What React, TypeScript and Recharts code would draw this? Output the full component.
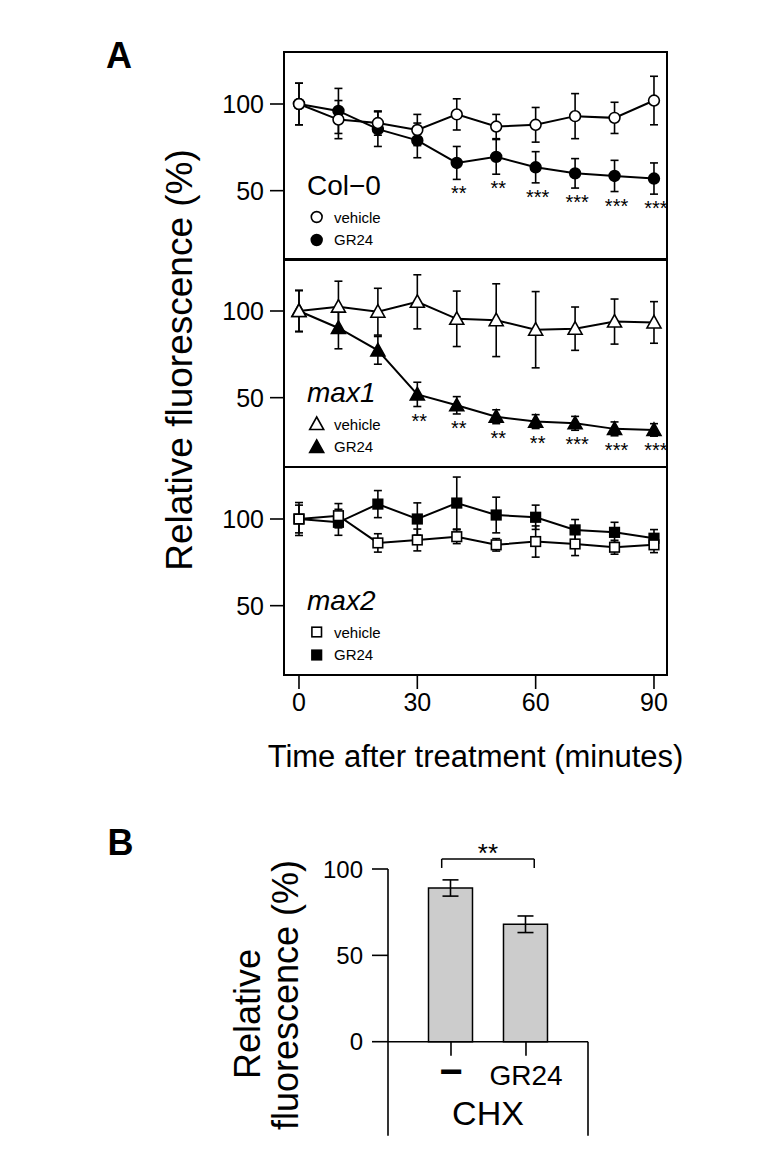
import React from 'react';
import {
  LineChart,
  Line,
  XAxis,
  YAxis,
  ErrorBar,
  ReferenceArea,
  ReferenceLine,
  ReferenceDot,
  Legend,
  LabelList,
  BarChart,
  Bar,
} from 'recharts';

const FONT = '"Liberation Sans", Arial, Helvetica, sans-serif';

// panel A: minutes after treatment
const minutes = [0, 10, 20, 30, 40, 50, 60, 70, 80, 90];
const timeTicks = [0, 30, 60, 90];
const percentTicks = [50, 100];
const seriesNames = ['vehicle', 'GR24'];

const col0Vehicle = [100, 91, 89, 85, 94, 87, 88, 93, 92, 102];
const col0VehicleSd = [12, 11, 7, 9, 9, 7, 10, 13, 9, 14];
const col0Gr24 = [100, 96, 85.5, 79, 66, 69.5, 63.5, 60, 58.5, 57];
const col0Gr24Sd = [12, 13, 10, 10, 9.5, 10, 9, 8.5, 9, 9];
const col0Stars = ['', '', '', '', '**', '**', '***', '***', '***', '***'];

const max1Vehicle = [100, 102.5, 99.6, 105.3, 95.5, 94.7, 89.2, 89.8, 93.9, 93.4];
const max1VehicleSd = [11.7, 14.7, 13.5, 15.6, 16, 21, 22, 12.5, 13, 12];
const max1Gr24 = [100, 90.2, 77.3, 51.9, 45.6, 39, 36.2, 35.2, 32, 31.4];
const max1Gr24Sd = [12, 12, 8, 7, 5, 4, 4, 4, 4, 3.6];
const max1Stars = ['', '', '', '**', '**', '**', '**', '***', '***', '***'];

const max2Vehicle = [100, 101.9, 86.2, 87.9, 89.8, 85.1, 87, 85.6, 83.7, 85.1];
const max2VehicleSd = [9.5, 7, 5.3, 6.3, 4, 3.6, 9, 6.7, 4, 4.5];
const max2Gr24 = [100, 98.1, 108.6, 100, 109.2, 102.3, 101, 93.7, 92.3, 88.9];
const max2Gr24Sd = [8, 7.5, 7.8, 9.3, 15, 10.3, 7, 6, 5.8, 5];
const max2Stars = ['', '', '', '', '', '', '', '', '', ''];

// panel B: CHX
const chxLabels = ['\u2212', 'GR24'];
const chxMeans = [89, 68];
const chxSd = [4.7, 4.8];
const barTicks = [0, 50, 100];

type Shape = 'circle' | 'triangle' | 'square';

function buildRows(veh: number[], vehSd: number[], gr: number[], grSd: number[], stars: string[]) {
  return minutes.map((t, i) => ({
    t,
    veh: veh[i],
    vehSd: vehSd[i],
    gr: gr[i],
    grSd: grSd[i],
    lo: gr[i] - grSd[i],
    star: stars[i],
  }));
}

function Marker({ cx, cy, shape, filled }: { cx: number; cy: number; shape: Shape; filled: boolean }) {
  const fill = filled ? '#000' : '#fff';
  if (shape === 'circle') {
    return <circle cx={cx} cy={cy} r={5.4} fill={fill} stroke="#000" strokeWidth={1.6} />;
  }
  if (shape === 'triangle') {
    return (
      <polygon
        points={`${cx},${cy - 7} ${cx - 7},${cy + 5.5} ${cx + 7},${cy + 5.5}`}
        fill={fill}
        stroke="#000"
        strokeWidth={1.6}
      />
    );
  }
  return <rect x={cx - 4.8} y={cy - 4.8} width={9.6} height={9.6} fill={fill} stroke="#000" strokeWidth={1.6} />;
}

const makeDot = (shape: Shape, filled: boolean) => (p: any) => {
  if (p.cx == null || p.cy == null) return <g key={p.index} />;
  return <Marker key={p.index} cx={p.cx} cy={p.cy} shape={shape} filled={filled} />;
};

const renderStar = (p: any) =>
  p.value ? (
    <text x={p.x + 2} y={p.y + 21} textAnchor="middle" fontSize={20} fontFamily={FONT} fill="#000">
      {p.value}
    </text>
  ) : null;

function PanelKey({ name, italic, shape }: { name: string; italic: boolean; shape: Shape }) {
  return (
    <svg width={160} height={95} style={{ display: 'block' }}>
      <text x={7} y={33} fontSize={28} fontStyle={italic ? 'italic' : 'normal'} fontFamily={FONT} fill="#000">
        {name}
      </text>
      <Marker cx={16.7} cy={55} shape={shape} filled={false} />
      <text x={34} y={60.5} fontSize={15} fontFamily={FONT} fill="#000">
        {seriesNames[0]}
      </text>
      <Marker cx={16.7} cy={78} shape={shape} filled />
      <text x={34} y={83} fontSize={15} fontFamily={FONT} fill="#000">
        {seriesNames[1]}
      </text>
    </svg>
  );
}

const axisTick = { fontSize: 25, fill: '#000', fontFamily: FONT };
const blackLine = { stroke: '#000', strokeWidth: 1.6 };

const yTitleA = (p: any) => {
  const vb = p.viewBox;
  const x = vb.x - 32;
  const y = vb.y + vb.height / 2 - 3;
  return (
    <text x={x} y={y} transform={`rotate(-90, ${x}, ${y})`} textAnchor="middle" fontSize={37} fontFamily={FONT} fill="#000">
      Relative fluorescence (%)
    </text>
  );
};

interface PanelProps {
  name: string;
  italic: boolean;
  shape: Shape;
  rows: ReturnType<typeof buildRows>;
  top: number;
  showX?: boolean;
  showTitle?: boolean;
}

function Panel({ name, italic, shape, rows, top, showX = false, showTitle = false }: PanelProps) {
  const axisH = showX ? 92 : 0;
  return (
    <div style={{ position: 'absolute', left: 0, top: 0 }}>
      <LineChart
        width={784}
        height={800}
        data={rows}
        margin={{ top, left: 224, right: 117, bottom: 800 - top - 208 - axisH }}
      >
        <XAxis
          type="number"
          dataKey="t"
          domain={[-3.8, 93.3]}
          allowDataOverflow
          ticks={timeTicks}
          hide={!showX}
          height={axisH}
          axisLine={false}
          tickSize={14}
          tickMargin={4}
          tickLine={blackLine}
          tick={axisTick}
          label={
            showX
              ? { value: 'Time after treatment (minutes)', position: 'insideBottom', offset: 0, fontSize: 31, fill: '#000', fontFamily: FONT }
              : undefined
          }
        />
        <YAxis
          type="number"
          domain={[10, 130]}
          allowDataOverflow
          ticks={percentTicks}
          width={60}
          axisLine={false}
          tickSize={14}
          tickMargin={6}
          tickLine={blackLine}
          tick={axisTick}
          label={showTitle ? yTitleA : undefined}
        />
        <ReferenceArea x1={-3.8} x2={93.3} y1={10} y2={130} fill="none" stroke="#000" strokeWidth={2} ifOverflow="visible" />
        <Line
          dataKey="gr"
          name={seriesNames[1]}
          stroke="#000"
          strokeWidth={2}
          dot={makeDot(shape, true)}
          activeDot={false}
          isAnimationActive={false}
        >
          <ErrorBar dataKey="grSd" width={4} stroke="#000" strokeWidth={1.6} direction="y" />
        </Line>
        <Line
          dataKey="veh"
          name={seriesNames[0]}
          stroke="#000"
          strokeWidth={2}
          dot={makeDot(shape, false)}
          activeDot={false}
          isAnimationActive={false}
        >
          <ErrorBar dataKey="vehSd" width={4} stroke="#000" strokeWidth={1.6} direction="y" />
        </Line>
        <Line dataKey="lo" stroke="none" dot={false} activeDot={false} legendType="none" isAnimationActive={false}>
          <LabelList dataKey="star" content={renderStar} />
        </Line>
        <Legend
          layout="horizontal"
          verticalAlign="middle"
          align="center"
          wrapperStyle={{ position: 'absolute', left: 300, top: top + 110, width: 160, height: 95 }}
          content={() => <PanelKey name={name} italic={italic} shape={shape} />}
        />
      </LineChart>
    </div>
  );
}

const barRows = chxLabels.map((label, i) => ({ pos: i + 1, label, mean: chxMeans[i], sd: chxSd[i] }));

const catTick = (p: any) => {
  const label = chxLabels[p.payload.value - 1];
  const isDash = label === '\u2212';
  return (
    <text
      x={p.x}
      y={p.y + 20}
      textAnchor="middle"
      fontSize={isDash ? 40 : 28}
      fontWeight={isDash ? 'bold' : 'normal'}
      fontFamily={FONT}
      fill="#000"
    >
      {label}
    </text>
  );
};

const yTitleB = (p: any) => {
  const vb = p.viewBox;
  const x1 = vb.x - 68;
  const y1 = vb.y + 145;
  const x2 = vb.x - 30;
  const y2 = vb.y + 126;
  return (
    <g>
      <text x={x1} y={y1} transform={`rotate(-90, ${x1}, ${y1})`} textAnchor="middle" fontSize={36} fontFamily={FONT} fill="#000">
        Relative
      </text>
      <text x={x2} y={y2} transform={`rotate(-90, ${x2}, ${y2})`} textAnchor="middle" fontSize={36} fontFamily={FONT} fill="#000">
        fluorescence (%)
      </text>
    </g>
  );
};

const bracketStars = (p: any) => {
  const vb = p.viewBox;
  return (
    <text x={vb.x} y={vb.y + 15} textAnchor="middle" fontSize={26} fontFamily={FONT} fill="#000">
      **
    </text>
  );
};

function PanelB() {
  return (
    <div style={{ position: 'absolute', left: 0, top: 780 }}>
      <BarChart width={784} height={379} data={barRows} margin={{ top: 89, left: 328, right: 196, bottom: 34 }}>
        <XAxis
          type="number"
          dataKey="pos"
          domain={[0.16, 2.827]}
          allowDataOverflow
          ticks={[1, 2]}
          height={83.3}
          tickSize={14}
          tickMargin={9.3}
          axisLine={blackLine}
          tickLine={blackLine}
          tick={catTick}
          label={{ value: 'CHX', position: 'insideBottom', offset: 0, fontSize: 34, fill: '#000', fontFamily: FONT }}
        />
        <YAxis
          type="number"
          domain={[0, 100]}
          ticks={barTicks}
          width={60}
          tickSize={16}
          tickMargin={9}
          axisLine={blackLine}
          tickLine={blackLine}
          tick={{ fontSize: 24, fill: '#000', fontFamily: FONT }}
          label={yTitleB}
        />
        <Bar dataKey="mean" fill="#cccccc" stroke="#000" strokeWidth={1.5} barSize={44} isAnimationActive={false}>
          <ErrorBar dataKey="sd" width={8} stroke="#000" strokeWidth={1.6} direction="y" />
        </Bar>
        <ReferenceLine segment={[{ x: 0.16, y: 0 }, { x: 0.16, y: -54.4 }]} stroke="#000" strokeWidth={1.6} ifOverflow="visible" />
        <ReferenceLine segment={[{ x: 2.827, y: 0 }, { x: 2.827, y: -54.4 }]} stroke="#000" strokeWidth={1.6} ifOverflow="visible" />
        <ReferenceLine segment={[{ x: 0.876, y: 105.8 }, { x: 2.11, y: 105.8 }]} stroke="#000" strokeWidth={1.5} ifOverflow="visible" />
        <ReferenceLine segment={[{ x: 0.876, y: 105.8 }, { x: 0.876, y: 100.6 }]} stroke="#000" strokeWidth={1.5} ifOverflow="visible" />
        <ReferenceLine segment={[{ x: 2.11, y: 105.8 }, { x: 2.11, y: 100.6 }]} stroke="#000" strokeWidth={1.5} ifOverflow="visible" />
        <ReferenceDot x={1.493} y={112.9} r={0} fill="none" stroke="none" ifOverflow="visible" label={bracketStars} />
      </BarChart>
    </div>
  );
}

export default function App() {
  const col0Rows = buildRows(col0Vehicle, col0VehicleSd, col0Gr24, col0Gr24Sd, col0Stars);
  const max1Rows = buildRows(max1Vehicle, max1VehicleSd, max1Gr24, max1Gr24Sd, max1Stars);
  const max2Rows = buildRows(max2Vehicle, max2VehicleSd, max2Gr24, max2Gr24Sd, max2Stars);

  return (
    <div style={{ position: 'absolute', left: 0, top: 0, width: 784, height: 1159, background: '#fff', fontFamily: FONT }}>
      <svg width={784} height={1159} style={{ position: 'absolute', left: 0, top: 0 }}>
        <text x={106} y={68} fontSize={36} fontWeight="bold" fontFamily={FONT} fill="#000">
          A
        </text>
        <text x={107.5} y={855} fontSize={36} fontWeight="bold" fontFamily={FONT} fill="#000">
          B
        </text>
      </svg>
      <Panel name={'Col\u22120'} italic={false} shape="circle" rows={col0Rows} top={52} />
      <Panel name="max1" italic shape="triangle" rows={max1Rows} top={259} showTitle />
      <Panel name="max2" italic shape="square" rows={max2Rows} top={467} showX />
      <PanelB />
    </div>
  );
}
